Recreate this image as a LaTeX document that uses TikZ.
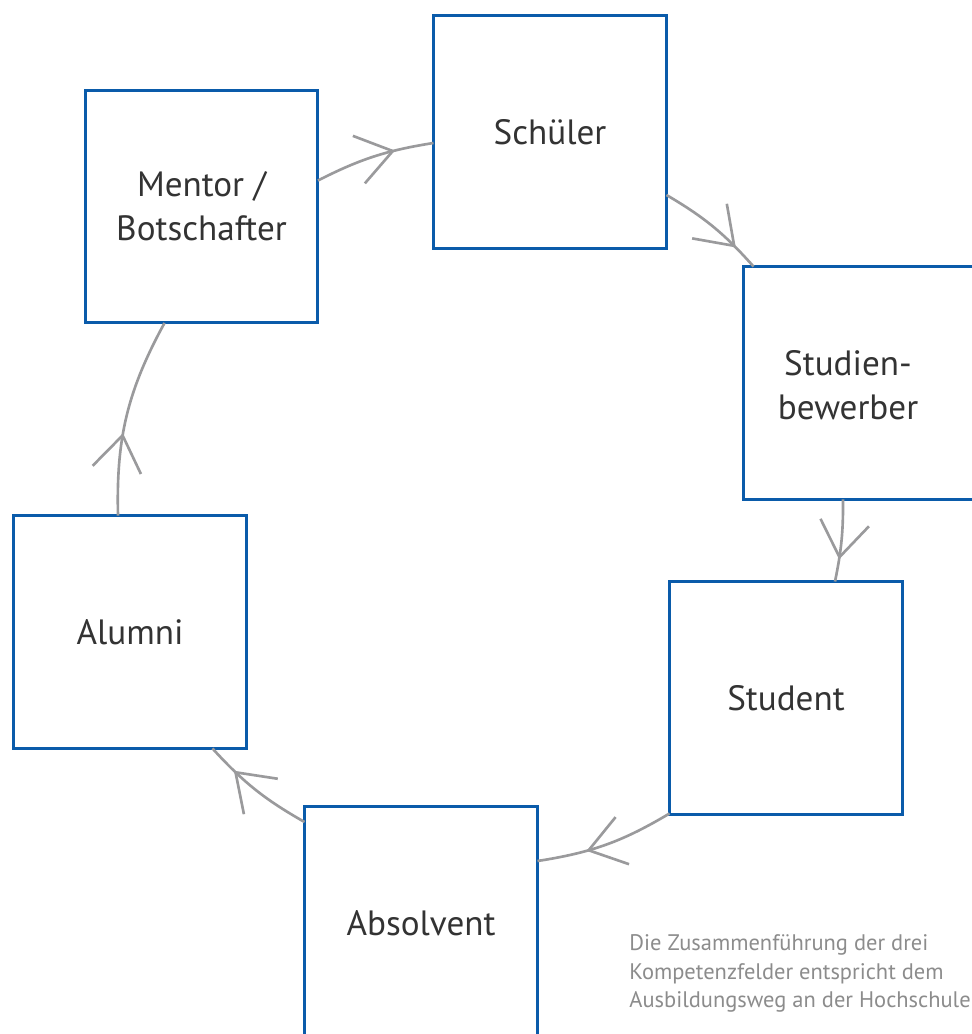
\documentclass[tikz,border=0pt]{standalone}
\usepackage{fontspec}
\setmainfont{PT Sans}
\usetikzlibrary{calc,decorations.markings}
\definecolor{boxblue}{HTML}{0A5BAA}
\definecolor{linegray}{HTML}{9A9A9C}
\definecolor{labeltext}{HTML}{333333}
\definecolor{notegray}{HTML}{8C8C8C}
\tikzset{
  stagebox/.style={draw=boxblue, line width=1.7pt, minimum width=4.66cm, minimum height=4.66cm,
    inner sep=0pt, outer sep=0pt, align=center, text=labeltext, font=\fontsize{20}{25}\selectfont},
  flowline/.style={draw=linegray, line width=1.5pt},
  midbarb/.style={postaction={decorate}, decoration={markings, mark=at position #1 with {
      \draw[linegray, line width=1.5pt, line join=round, line cap=butt] (-0.70cm,0.49cm) -- (0,0) -- (-0.70cm,-0.49cm);}}},
  notetext/.style={anchor=north west, align=left, text=notegray, inner sep=0pt,
    font=\fontsize{12.8}{16.4}\selectfont}
}
\begin{document}
\begin{tikzpicture}[x=0.02cm,y=-0.02cm]
\useasboundingbox (0,0) rectangle (972,1034);
\clip (0,0) rectangle (972,1034);
\fill[white] (0,0) rectangle (972,1034);
% boxes
\node[stagebox] (schuler) at (550,132) {Schüler};
\node[stagebox] (mentor) at (201.5,206.5) {Mentor /\\Botschafter};
\node[stagebox] (bewerber) at (860,383) {};
\node[align=center, text=labeltext, font=\fontsize{20}{25}\selectfont, inner sep=0pt] (bewerbertext) at (848,385) {Studien-\\bewerber};
\node[stagebox] (student) at (786,698) {Student};
\node[stagebox] (absolvent) at (421,923) {Absolvent};
\node[stagebox] (alumni) at (130,632) {Alumni};
% connectors
\draw[flowline, midbarb=0.66] ($(mentor.east)+(0,-26)$) to[bend left=9] ($(schuler.west)+(0,11)$);
\draw[flowline, midbarb=0.75] ($(schuler.east)+(0,63)$) to[bend left=9] ($(bewerber.north west)+(10,0)$);
\draw[flowline, midbarb=0.70] ($(bewerber.south)+(-17,0)$) to[bend left=6] ($(student.north)+(49,0)$);
\draw[flowline, midbarb=0.63] ($(student.south west)+(0,-1)$) to[bend left=11] ($(absolvent.east)+(0,-62)$);
\draw[flowline, midbarb=0.72] ($(absolvent.west)+(0,-101)$) to[bend left=9] ($(alumni.south east)+(-34,0)$);
\draw[flowline, midbarb=0.40] ($(alumni.north)+(-12,0)$) to[bend left=15] ($(mentor.south)+(-37,0)$);
% note
\node[notetext] (note) at (629,934) {Die Zusammenführung der drei\\Kompetenzfelder entspricht dem\\Ausbildungsweg an der Hochschule};
\end{tikzpicture}
\end{document}
